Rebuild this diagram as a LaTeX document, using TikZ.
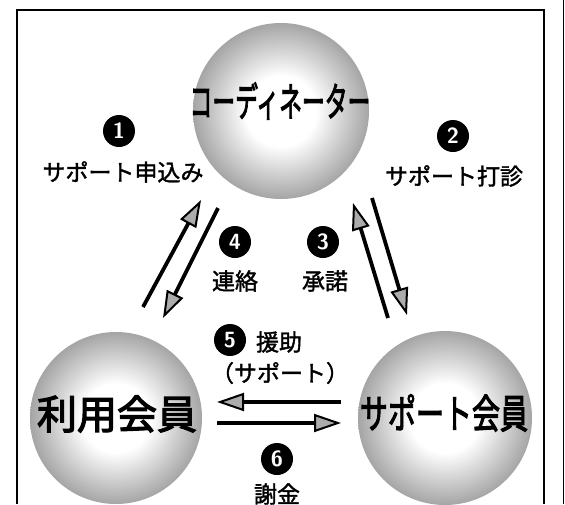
\documentclass[tikz,border=0pt]{standalone}
\usepackage{fontspec}
\usepackage{graphicx}
\newfontfamily\jp[FakeBold=1.6]{Noto Sans CJK JP}
\newfontfamily\jpb[FakeBold=3]{Noto Sans CJK JP}
\usetikzlibrary{arrows.meta}
\pgfdeclareradialshading{ball}{\pgfpoint{0bp}{0bp}}{color(0bp)=(white); color(10bp)=(white); color(27bp)=(black!40); color(44bp)=(black!75); color(50bp)=(black!85)}
\begin{document}
\begin{tikzpicture}[x=1pt,y=-1pt,
  ballnode/.style={circle, minimum size=#1, inner sep=0pt, shading=ball},
  num/.style={circle, fill=black, minimum size=32pt, inner sep=0pt, text=white, font=\fontsize{22}{22}\sffamily\bfseries},
  lbl/.style={font=\jp\fontsize{23}{24}\selectfont, inner sep=0pt},
  big/.style={font=\jpb\fontsize{40}{42}\selectfont, inner sep=0pt},
  arr/.style={line width=3.8pt, -{Triangle[length=27pt,width=18pt,fill=gray!65,line width=2pt]}},
  frame/.style={line width=1.6pt}
]
\useasboundingbox (0,0) rectangle (565,504);
\fill[white] (0,0) rectangle (565,504);
% frame
\draw[frame] (17,504) -- (17,10) -- (544,10) -- (544,504);
\draw[line width=1pt] (563,0) -- (563,504);

% balls
\node[ballnode=176pt] (coord) at (281,111) {};
\node[ballnode=172pt] (user) at (116,418) {};
\node[ballnode=174pt] (supp) at (445,418) {};
\node[big] (coordt) at (280,101) {\scalebox{0.57}[1]{コーディネーター}};
\node[big] (usert) at (117,414) {利用会員};
\node[big] (suppt) at (444,413) {\scalebox{0.7}[1]{サポート会員}};

% labels
\node[num] (n1) at (119,131) {1};
\node[lbl] (l1) at (123,172) {サポート申込み};
\node[num] (n2) at (453,136) {2};
\node[lbl] (l2) at (454,176) {サポート打診};
\node[num] (n4) at (235,242) {4};
\node[lbl] (l4) at (235,281) {連絡};
\node[num] (n3) at (323,242) {3};
\node[lbl] (l3) at (325,281) {承諾};
\node[num] (n5) at (230,340) {5};
\node[lbl] (l5) at (279,342) {援助};
\node[lbl] (l5b) at (280,373) {（サポート）};
\node[num] (n6) at (277,459) {6};
\node[lbl] (l6) at (277,494) {謝金};

% arrow end points
\coordinate (a1s) at (143,307);
\coordinate (a1e) at (201,200);
\coordinate (a4s) at (218,208);
\coordinate (a4e) at (163,318);
\coordinate (a3s) at (388,318);
\coordinate (a3e) at (353,203);
\coordinate (a2s) at (372,198);
\coordinate (a2e) at (407,315);
\coordinate (a5s) at (341,402);
\coordinate (a5e) at (217,402);
\coordinate (a6s) at (217,423);
\coordinate (a6e) at (341,423);

\draw[arr] (a1s) -- (a1e);
\draw[arr] (a4s) -- (a4e);
\draw[arr] (a3s) -- (a3e);
\draw[arr] (a2s) -- (a2e);
\draw[arr] (a5s) -- (a5e);
\draw[arr] (a6s) -- (a6e);
\end{tikzpicture}
\end{document}
